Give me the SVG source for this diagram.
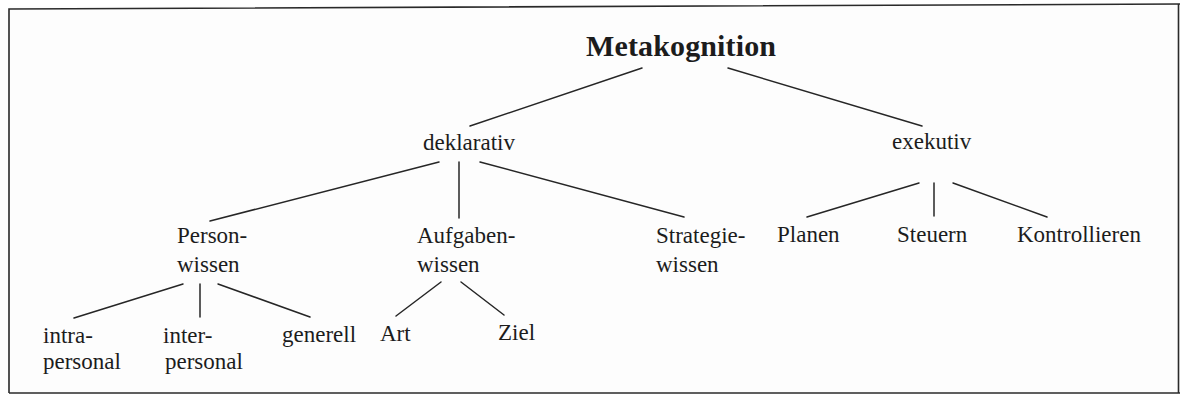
<svg xmlns="http://www.w3.org/2000/svg" width="1180" height="396" viewBox="0 0 1180 396">
  <style>
    .frame { fill: none; stroke: #2a2a2a; stroke-width: 1.6; }
    .edge { stroke: #262626; stroke-width: 1.5; fill: none; stroke-linecap: round; }
    .lbl { font-family: "Liberation Serif", "Times New Roman", serif; font-size: 23px; fill: #1c1c1c; }
    .root { font-family: "Liberation Serif", "Times New Roman", serif; font-size: 30px; font-weight: bold; fill: #1c1c1c; }
  </style>

  <rect x="0" y="0" width="1180" height="396" fill="#ffffff"/>
  <rect x="9" y="6" width="1170" height="387" fill="#fdfdfd"/>

  <!-- outer frame -->
  <path class="frame" d="M9,393 L9,9 L1180,4"/>
  <path class="frame" d="M9,393 L1180,393"/>
  <path class="frame" d="M1178.5,4 L1178.5,393" stroke="#9a9a9a"/>

  <!-- connectors -->
  <g id="connectors">
    <line class="edge" x1="642" y1="68" x2="470" y2="126"/>
    <line class="edge" x1="728" y1="68" x2="922" y2="126"/>

    <line class="edge" x1="439" y1="162" x2="210" y2="221"/>
    <line class="edge" x1="459" y1="162" x2="459" y2="218"/>
    <line class="edge" x1="480" y1="162" x2="684" y2="217"/>

    <line class="edge" x1="919" y1="183" x2="807" y2="217"/>
    <line class="edge" x1="934" y1="183" x2="934" y2="216"/>
    <line class="edge" x1="953" y1="183" x2="1047" y2="217"/>

    <line class="edge" x1="183" y1="284" x2="74" y2="318"/>
    <line class="edge" x1="200" y1="284" x2="200" y2="317"/>
    <line class="edge" x1="218" y1="284" x2="310" y2="317"/>

    <line class="edge" x1="441" y1="282" x2="396" y2="316"/>
    <line class="edge" x1="461" y1="282" x2="504" y2="315"/>
  </g>

  <!-- nodes -->
  <g id="metakognition">
    <text class="root" x="586" y="56" textLength="190">Metakognition</text>
  </g>
  <g id="deklarativ">
    <text class="lbl" x="423" y="150">deklarativ</text>
  </g>
  <g id="exekutiv">
    <text class="lbl" x="892" y="149">exekutiv</text>
  </g>
  <g id="personwissen">
    <text class="lbl" x="177" y="243">Person-</text>
    <text class="lbl" x="177" y="272">wissen</text>
  </g>
  <g id="aufgabenwissen">
    <text class="lbl" x="417" y="243">Aufgaben-</text>
    <text class="lbl" x="417" y="272">wissen</text>
  </g>
  <g id="strategiewissen">
    <text class="lbl" x="656" y="243">Strategie-</text>
    <text class="lbl" x="656" y="272">wissen</text>
  </g>
  <g id="planen">
    <text class="lbl" x="777" y="242">Planen</text>
  </g>
  <g id="steuern">
    <text class="lbl" x="897" y="242">Steuern</text>
  </g>
  <g id="kontrollieren">
    <text class="lbl" x="1017" y="242">Kontrollieren</text>
  </g>
  <g id="intrapersonal">
    <text class="lbl" x="43" y="343">intra-</text>
    <text class="lbl" x="43" y="369">personal</text>
  </g>
  <g id="interpersonal">
    <text class="lbl" x="163" y="343">inter-</text>
    <text class="lbl" x="165" y="369">personal</text>
  </g>
  <g id="generell">
    <text class="lbl" x="282" y="342">generell</text>
  </g>
  <g id="art">
    <text class="lbl" x="380" y="341">Art</text>
  </g>
  <g id="ziel">
    <text class="lbl" x="498" y="340">Ziel</text>
  </g>
</svg>
